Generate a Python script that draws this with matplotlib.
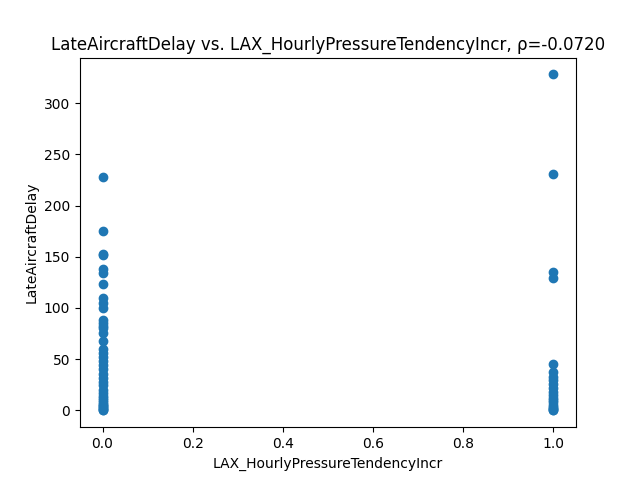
import matplotlib
matplotlib.use("Agg")
import matplotlib.pyplot as plt

x0_vals = [228, 175, 153, 152, 138, 134, 123, 110, 105, 100, 88, 85, 82, 80, 76, 68, 60, 56, 52, 48, 44, 40, 36, 32, 28, 25, 20, 17, 14, 12, 10, 8, 6, 5, 4, 3, 2, 1, 0, 0]
x1_vals = [328, 231, 135, 129, 45, 37, 33, 30, 26, 22, 18, 15, 12, 10, 8, 5, 3, 2, 1, 0, 0]

xs = [0.0] * len(x0_vals) + [1.0] * len(x1_vals)
ys = x0_vals + x1_vals

fig, ax = plt.subplots(figsize=(6.4, 4.8), dpi=100)
ax.scatter(xs, ys)
ax.set_xlabel("LAX_HourlyPressureTendencyIncr")
ax.set_ylabel("LateAircraftDelay")
ax.set_title("LateAircraftDelay vs. LAX_HourlyPressureTendencyIncr, ρ=-0.0720")
fig.savefig("out.png")
